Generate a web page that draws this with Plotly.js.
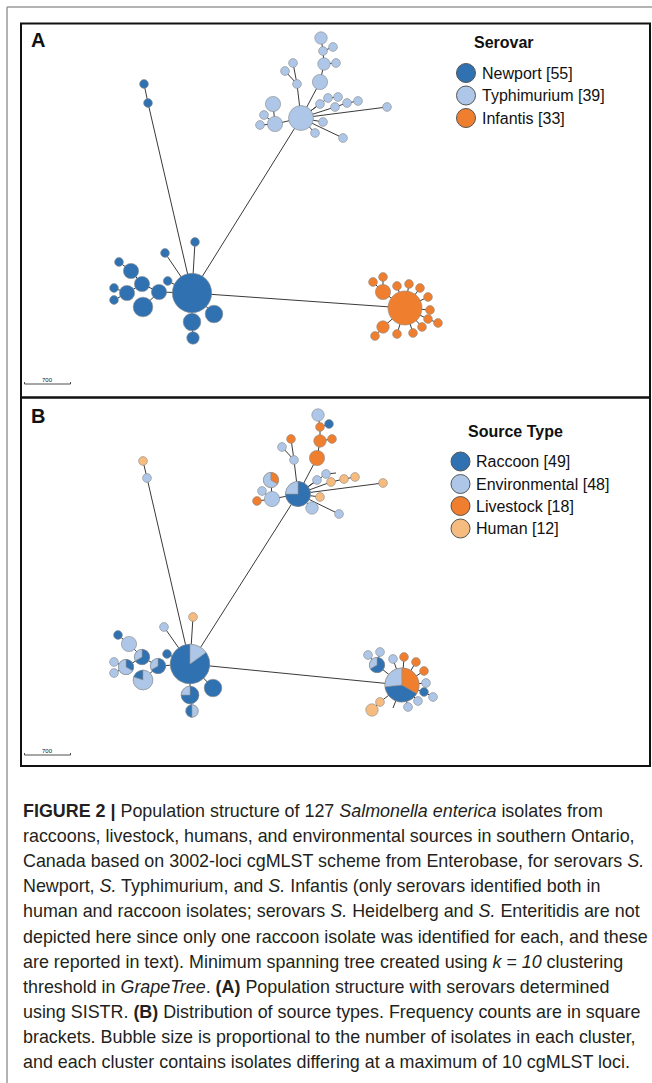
<!DOCTYPE html>
<html><head><meta charset="utf-8">
<script src="https://cdn.plot.ly/plotly-3.0.1.min.js"></script>
<style>html,body{margin:0;padding:0;background:#fff}#chart{width:652px;height:1083px}</style>
</head><body><div id="chart"></div>
<script>
// ---------------- DATA ----------------
// Panel A: minimum spanning tree, nodes coloured by serovar (0 Newport, 1 Typhimurium, 2 Infantis)
const serovarNames  = ["Newport", "Typhimurium", "Infantis"];
const serovarCounts = [55, 39, 33];
const nodeA_x = [192,195,165,167.7,159,142,131,119,127,114,114,143,192,193,214,148,144,
                 301,321,333,323,324,336,320,293,285,297,273,264,260,275,320,328,338,335,347,358,387,323,315,343,
                 405,383,373,383,397,409,420,428,430,428,438,422,413,397,383,375];
const nodeA_y = [293,242,253,281,292,284,271,262,293,288,300,307,322,338,314,103,84,
                 118,38,47,51,64,63,82,63,71,84,104,115,125,124,104,98,97,107,103,101,107,122,133,138,
                 308,292,282,277,286,284,288,297,310,319,323,327,333,334,327,336];
const nodeA_n = [20,1,1,1,3,3,3,1,3,1,1,5,4,2,4,1,1,
                 8,2,1,1,2,1,3,1,1,1,3,1,1,3,1,1,1,1,1,1,1,1,1,1,
                 15,3,1,1,1,1,1,1,1,1,1,1,1,1,2,1];
const nodeA_group = [0,0,0,0,0,0,0,0,0,0,0,0,0,0,0,0,0,
                     1,1,1,1,1,1,1,1,1,1,1,1,1,1,1,1,1,1,1,1,1,1,1,1,
                     2,2,2,2,2,2,2,2,2,2,2,2,2,2,2,2];
// tree edges (same tree in both panels)
const edge_from = [0,0,0,0,4,5,6,5,8,8,4,0,12,0,0,15,0,0,
                   17,23,21,20,20,21,17,26,26,17,30,30,30,17,17,32,17,34,35,17,17,17,17,
                   41,42,42,41,41,41,41,41,41,50,41,41,41,41,55];
const edge_to   = [1,2,3,4,5,6,7,8,9,10,11,12,13,14,15,16,17,41,
                   23,21,20,18,19,22,26,24,25,30,27,28,29,31,32,33,34,35,36,37,38,39,40,
                   42,43,44,45,46,47,48,49,50,51,52,53,54,55,56];

// Panel B: same clusters, pies by source type
const sourceNames  = ["Raccoon", "Environmental", "Livestock", "Human"];
const sourceCounts = [49, 48, 18, 12];
const nodeB_x = [190,193,164,167,158,142,129,118,126,114,114,143,190,192,213,147,143,
                 298,318,329,320,320,332,317,291,282,294,271,262,257,272,317,326,336,331,344,355,383,320,312,339,
                 402,377,368,380,393,404,416,424,426,424,433,418,408,393,380,372];
const nodeB_y = [664,617,627,654,666,657,644,635,667,662,673,680,695,711,688,478,461,
                 494,415,424,427,441,439,458,439,447,460,480,491,501,499,480,474,473,482,479,477,483,497,508,514,
                 685,665,655,652,659,657,662,671,683,692,697,701,707,708,702,710];
const nodeB_raccoon   = [17,0,0,1,2,2,0,1,1,0,0,1,3,1,4,0,0,
                         6,0,1,0,0,0,0,0,0,0,0,0,0,0,0,0,0,0,0,0,0,0,0,0,
                         6,2,0,0,0,0,0,0,0,1,0,0,0,0,0,0];
const nodeB_env       = [3,0,1,0,1,1,3,0,2,1,1,4,1,1,0,1,0,
                         2,2,0,0,0,0,0,0,1,1,2,1,0,3,1,1,0,0,0,0,0,0,1,1,
                         4,1,1,1,1,0,0,0,1,0,1,1,1,0,0,0];
const nodeB_livestock = [0,0,0,0,0,0,0,0,0,0,0,0,0,0,0,0,0,
                         0,0,0,1,2,1,3,1,0,0,1,0,1,0,0,0,0,0,0,0,0,0,0,0,
                         5,0,0,0,0,1,1,1,0,0,0,0,0,0,0,0];
const nodeB_human     = [0,1,0,0,0,0,0,0,0,0,0,0,0,0,0,0,1,
                         0,0,0,0,0,0,0,0,0,0,0,0,0,0,0,0,0,1,1,1,1,1,1,0,0,
                         0,0,0,0,0,0,0,0,0,0,0,0,0,1,2,1];
// clockwise wedge order from 12 o'clock (R raccoon, E environmental, L livestock, H human)
const nodeB_order = ["ER","H","E","R","RE","RE","E","R","RE","E","E","ER","RE","ER","R","E","H",
                     "RE","E","R","L","L","L","L","L","E","E","LE","E","L","E","E","E","H","H","H","H","H","H","E","E",
                     "LRE","RE","E","E","E","L","L","L","E","R","E","E","E","H","H","H"];

// ---------------- STYLE ----------------
const colA = ["#3072b1", "#aec7e8", "#ef7f2f"];
const colB = {R:"#3072b1", E:"#aec7e8", L:"#ef7f2f", H:"#f6bb7f"};
const catKeys = ["R","E","L","H"];
const K = 4.4;               // radius per sqrt(isolate)
const FONT = "Liberation Sans, Arial, Helvetica, sans-serif";
const OUT = "#8a8a8a";

function rad(n){ return K*Math.sqrt(n); }

const traces = [];
function edgeTrace(xs, ys){
  const ex=[], ey=[];
  for(let i=0;i<edge_from.length;i++){
    ex.push(xs[edge_from[i]], xs[edge_to[i]], null);
    ey.push(ys[edge_from[i]], ys[edge_to[i]], null);
  }
  return {type:"scatter", mode:"lines", x:ex, y:ey, line:{color:"#3a3a3a", width:1}, hoverinfo:"skip"};
}

// Panel A
traces.push(edgeTrace(nodeA_x, nodeA_y));
traces.push({type:"scatter", mode:"markers", x:nodeA_x, y:nodeA_y,
  marker:{size:nodeA_n.map(n=>2*rad(n)), color:nodeA_group.map(g=>colA[g]), line:{color:OUT, width:0.6}, opacity:1},
  hoverinfo:"skip"});

// Panel B
traces.push(edgeTrace(nodeB_x, nodeB_y));
const counts = {R:nodeB_raccoon, E:nodeB_env, L:nodeB_livestock, H:nodeB_human};
const nodeB_total = nodeB_x.map((_,i)=>catKeys.reduce((s,k)=>s+counts[k][i],0));
traces.push({type:"scatter", mode:"markers", x:nodeB_x, y:nodeB_y,
  marker:{size:nodeB_total.map(n=>2*rad(n)), color:nodeB_order.map(o=>colB[o[0]]), line:{color:OUT, width:0.6}, opacity:1},
  hoverinfo:"skip"});
// pie wedges
const wedge = {R:{x:[],y:[]}, E:{x:[],y:[]}, L:{x:[],y:[]}, H:{x:[],y:[]}};
nodeB_x.forEach((cx,i)=>{
  const ord = nodeB_order[i];
  if(ord.length<2) return;
  const cy = nodeB_y[i], tot = nodeB_total[i], r = rad(tot);
  let a = 0;
  for(const k of ord){
    const f = counts[k][i]/tot, a1 = a + f*2*Math.PI;
    const w = wedge[k];
    w.x.push(cx); w.y.push(cy);
    const steps = Math.max(2, Math.ceil((a1-a)/(Math.PI/36)));
    for(let s=0;s<=steps;s++){
      const t = a + (a1-a)*s/steps;
      w.x.push(cx + r*Math.sin(t)); w.y.push(cy - r*Math.cos(t));
    }
    w.x.push(cx, null); w.y.push(cy, null);
    a = a1;
  }
});
catKeys.forEach(k=>{
  traces.push({type:"scatter", mode:"lines", x:wedge[k].x, y:wedge[k].y, fill:"toself",
    fillcolor:colB[k], line:{color:OUT, width:0.5}, hoverinfo:"skip", connectgaps:false});
});

// legends (markers)
const legA_y = [73, 95.5, 118];
const legB_y = [461.5, 484, 506, 528.5];
traces.push({type:"scatter", mode:"markers", x:legA_y.map(()=>466), y:legA_y,
  marker:{size:19, color:colA, line:{color:"#555", width:1}, opacity:1}, hoverinfo:"skip"});
traces.push({type:"scatter", mode:"markers", x:legB_y.map(()=>460.5), y:legB_y,
  marker:{size:19, color:catKeys.map(k=>colB[k]), line:{color:"#555", width:1}, opacity:1}, hoverinfo:"skip"});

// ---------------- TEXT ----------------
const ann = [];
function txt(x,y,text,size,opts){
  ann.push(Object.assign({x:x, y:y, xref:"x", yref:"y", text:text, showarrow:false,
    xanchor:"left", yanchor:"middle", font:{family:FONT, size:size, color:"#111"}}, opts||{}));
}
txt(29,40,"<b>A</b>",20);
txt(29,415.5,"<b>B</b>",20);
txt(472,42.5,"<b>Serovar</b>",16);
txt(466,431.5,"<b>Source Type</b>",16);
serovarNames.forEach((s,i)=>txt(479.5,legA_y[i],s+" ["+serovarCounts[i]+"]",16));
sourceNames.forEach((s,i)=>txt(473.5,legB_y[i],s+" ["+sourceCounts[i]+"]",16));
txt(47,380,"700",6,{xanchor:"center"});
txt(47,750.5,"700",6,{xanchor:"center"});

const caption = [
  "<b>FIGURE 2 |</b> Population structure of 127 <i>Salmonella enterica</i> isolates from",
  "raccoons, livestock, humans, and environmental sources in southern Ontario,",
  "Canada based on 3002-loci cgMLST scheme from Enterobase, for serovars <i>S.</i>",
  "Newport, <i>S.</i> Typhimurium, and <i>S.</i> Infantis (only serovars identified both in",
  "human and raccoon isolates; serovars <i>S.</i> Heidelberg and <i>S.</i> Enteritidis are not",
  "depicted here since only one raccoon isolate was identified for each, and these",
  "are reported in text). Minimum spanning tree created using <i>k = 10</i> clustering",
  "threshold in <i>GrapeTree</i>. <b>(A)</b> Population structure with serovars determined",
  "using SISTR. <b>(B)</b> Distribution of source types. Frequency counts are in square",
  "brackets. Bubble size is proportional to the number of isolates in each cluster,",
  "and each cluster contains isolates differing at a maximum of 10 cgMLST loci."
];
caption.forEach((c,i)=>txt(21,811+25.1*i,c,18,{font:{family:FONT,size:17.9,color:"#231f20"}}));

// ---------------- SHAPES ----------------
const shapes = [
  {type:"line", xref:"x", yref:"y", x0:7, y0:7, x1:652, y1:7, line:{color:"#9a9a9a", width:1.5}},
  {type:"line", xref:"x", yref:"y", x0:7, y0:7, x1:7, y1:1083, line:{color:"#9a9a9a", width:1.5}},
  {type:"rect", xref:"x", yref:"y", x0:21, y0:23.5, x1:650, y1:397.5, line:{color:"#111", width:2}},
  {type:"rect", xref:"x", yref:"y", x0:21, y0:397.5, x1:650, y1:766, line:{color:"#111", width:2}},
];
[384, 755].forEach(yb=>{
  shapes.push({type:"line", xref:"x", yref:"y", x0:24.5, y0:yb, x1:70.5, y1:yb, line:{color:"#222", width:0.8}});
  shapes.push({type:"line", xref:"x", yref:"y", x0:24.5, y0:yb, x1:24.5, y1:yb-2, line:{color:"#222", width:0.8}});
  shapes.push({type:"line", xref:"x", yref:"y", x0:70.5, y0:yb, x1:70.5, y1:yb-2, line:{color:"#222", width:0.8}});
});

const layout = {
  width:652, height:1083, margin:{l:0,r:0,t:0,b:0},
  paper_bgcolor:"#fff", plot_bgcolor:"#fff", showlegend:false,
  xaxis:{range:[0,652], visible:false, fixedrange:true},
  yaxis:{range:[1083,0], visible:false, fixedrange:true},
  annotations:ann, shapes:shapes, hovermode:false
};
Plotly.newPlot("chart", traces, layout, {staticPlot:true, displayModeBar:false});
</script></body></html>
